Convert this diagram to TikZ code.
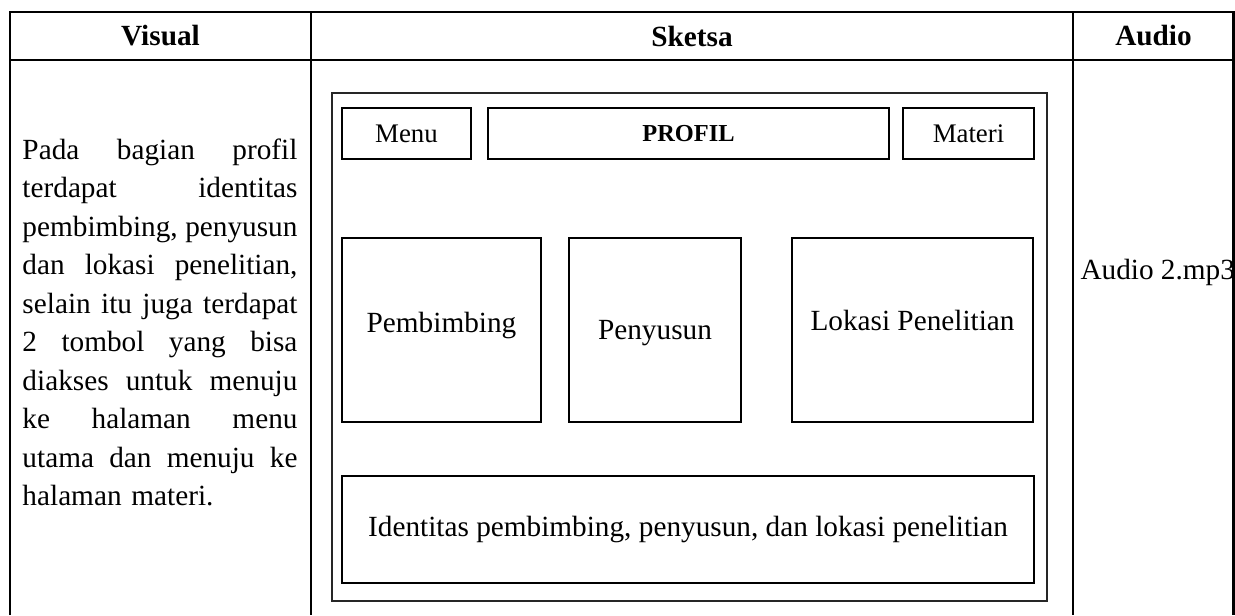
\documentclass[tikz,border=0pt]{standalone}
\usepackage{fontspec}
\setmainfont{Liberation Serif}
\usepackage{tikz}

\newcommand\pxw{0.41pt}
\newlength\desclen
\setlength\desclen{112.75pt}
\newcommand\jline[1]{\noindent\makebox[\desclen]{#1}\par}

\begin{document}
\begin{tikzpicture}[
    x=0.41pt, y=-0.41pt,
    tableline/.style={line width=0.85pt},
    heading/.style={font=\fontsize{12}{14}\selectfont\bfseries, inner sep=0},
    sketchbox/.style={rectangle, draw, line width=0.6pt, inner sep=0, font=\fontsize{12}{14}\selectfont},
    smallbox/.style={sketchbox, font=\fontsize{11}{13}\selectfont},
    frame/.style={rectangle, draw=black!85, line width=0.75pt, inner sep=0}
]
    \useasboundingbox (0,0) rectangle (1235,615);

    % table
    \draw[tableline] (10,615) -- (10,12) -- (1233.5,12) -- (1233.5,615);
    \draw[tableline] (10,60) -- (1233.5,60);
    \draw[tableline] (311,12) -- (311,615);
    \draw[tableline] (1073,12) -- (1073,615);

    \node[heading] (hvisual) at (160.5,36) {Visual};
    \node[heading] (hsketsa) at (692,36) {Sketsa};
    \node[heading] (haudio) at (1153.5,36) {Audio};

    % visual column
    \node[anchor=north west, inner sep=0, text width=\desclen, align=left,
          font=\fontsize{12}{15.8}\selectfont] (desc) at (22,138) {%
        \jline{Pada\hfill bagian\hfill profil}
        \jline{terdapat\hfill identitas}
        \jline{pembimbing,\hfill penyusun}
        \jline{dan\hfill lokasi\hfill penelitian,}
        \jline{selain\hfill itu\hfill juga\hfill terdapat}
        \jline{2\hfill tombol\hfill yang\hfill bisa}
        \jline{diakses\hfill untuk\hfill menuju}
        \jline{ke\hfill halaman\hfill menu}
        \jline{utama\hfill dan\hfill menuju\hfill ke}
        \noindent halaman materi.};

    % sketch column
    \node[frame, minimum width=715*\pxw, minimum height=508*\pxw] (screen) at (689.5,347) {};

    \node[smallbox, minimum width=129*\pxw, minimum height=51*\pxw] (menu) at (406.5,133.5) {Menu};
    \node[sketchbox, minimum width=401*\pxw, minimum height=51*\pxw, font=\fontsize{10}{12}\selectfont\bfseries] (profil) at (688.5,133.5) {PROFIL};
    \node[smallbox, minimum width=131*\pxw, minimum height=51*\pxw] (materi) at (968.5,133.5) {Materi};

    \node[sketchbox, minimum width=199*\pxw, minimum height=184*\pxw, text depth=5.9pt] (pembimbing) at (441.5,330) {Pembimbing};
    \node[sketchbox, minimum width=172*\pxw, minimum height=184*\pxw, text height=10.5pt] (penyusun) at (655,330) {Penyusun};
    \node[sketchbox, minimum width=241*\pxw, minimum height=184*\pxw, text depth=8pt] (lokasi) at (912.5,330) {Lokasi Penelitian};

    \node[sketchbox, minimum width=692*\pxw, minimum height=107*\pxw] (identitas) at (688,529.5) {Identitas pembimbing, penyusun, dan lokasi penelitian};

    % audio column
    \node[anchor=west, inner sep=0, font=\fontsize{12}{14}\selectfont] (audiofile) at (1080,272) {Audio 2.mp3};
\end{tikzpicture}
\end{document}
